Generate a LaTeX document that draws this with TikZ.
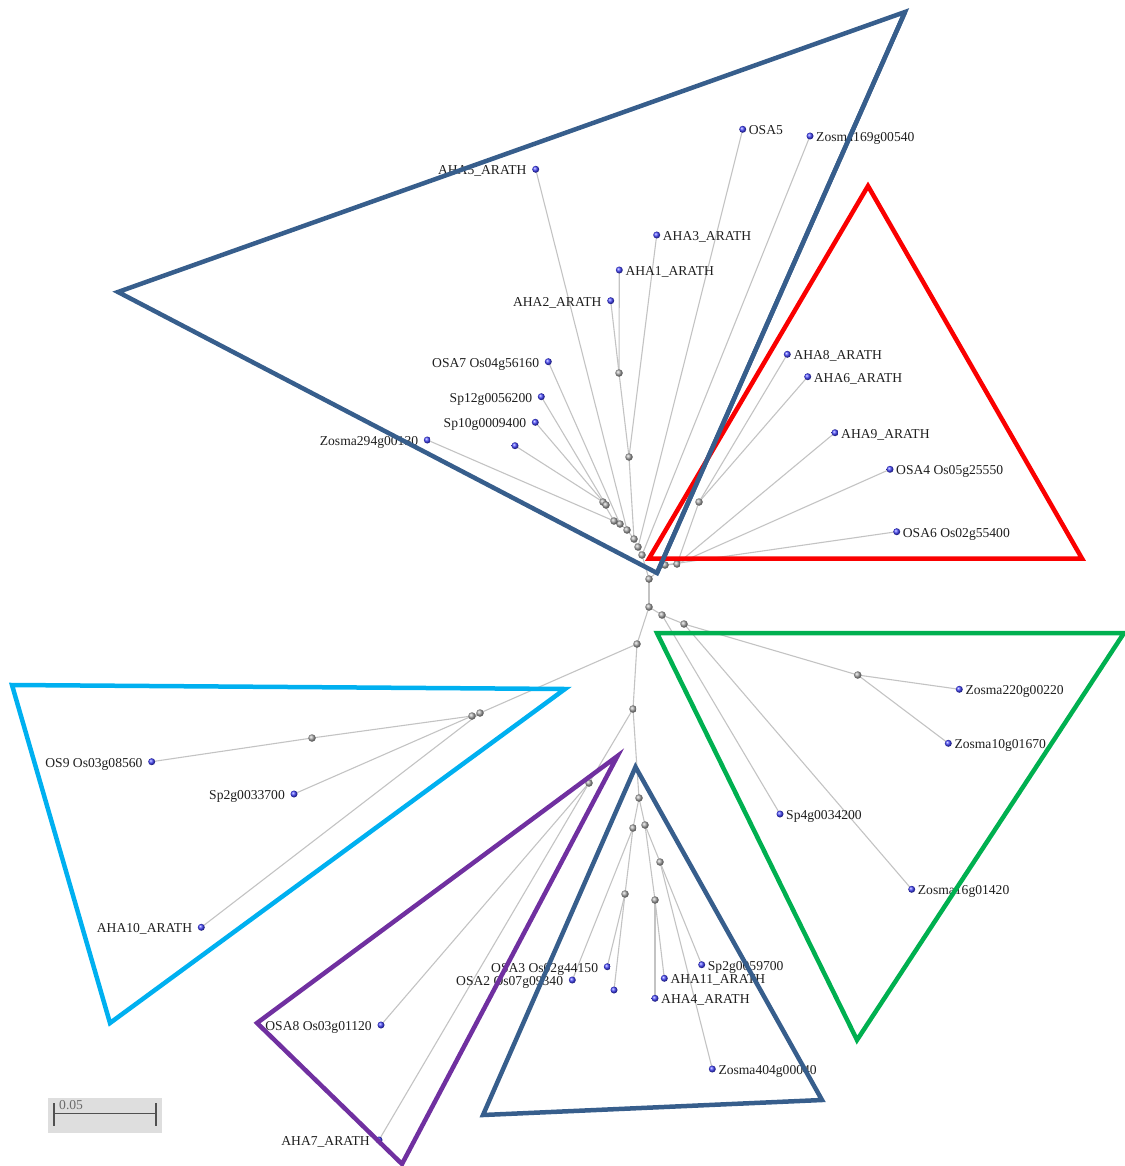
\documentclass[tikz,border=0pt]{standalone}
\usepackage{fontspec}
\setmainfont{Liberation Serif}
\usetikzlibrary{calc}
\pgfdeclarelayer{bg}
\pgfsetlayers{bg,main}
\definecolor{leafblue}{RGB}{70,70,255}
\definecolor{edgegray}{RGB}{195,195,195}
\definecolor{tblue}{RGB}{55,94,140}
\definecolor{tred}{RGB}{250,0,0}
\definecolor{tgreen}{RGB}{0,176,80}
\definecolor{tcyan}{RGB}{0,176,240}
\definecolor{tpurple}{RGB}{112,48,160}
\definecolor{barbg}{RGB}{222,222,222}
\definecolor{bardark}{RGB}{80,80,80}
\newcommand\myleafR[4]{\node[leaf] (#1) at (#2,#3) {};\node[rt] (#1-lab) at ($(#1)+(6,5.5)$) {#4};}
\newcommand\myleafL[4]{\node[leaf] (#1) at (#2,#3) {};\node[lt] (#1-lab) at ($(#1)+(-9,5.5)$) {#4};}
\newcommand\myinner[3]{\node[innode] (#1) at (#2,#3) {};}
\begin{document}
\begin{tikzpicture}[x=1pt,y=-1pt,
  leaf/.style={circle,inner sep=0pt,minimum size=7pt,ball color=leafblue},
  innode/.style={circle,inner sep=0pt,minimum size=7.5pt,ball color=gray!65},
  edge/.style={draw=edgegray,line width=1.1pt},
  txt/.style={inner sep=0pt,font=\fontsize{13.6}{16}\selectfont,text=black!88},
  rt/.style={txt,anchor=base west},
  lt/.style={txt,anchor=base east},
  clade/.style={line width=4.5pt,line join=miter}
]
\useasboundingbox (0,0) rectangle (1124,1166);

% ---------- internal nodes ----------
\myinner{c1}{649}{579}
\myinner{t1}{642}{555}
\myinner{t2}{638}{547}
\myinner{t3}{634}{539}
\myinner{t4}{627}{530}
\myinner{t5}{620}{524}
\myinner{t6}{614}{521}
\myinner{t7}{603}{502}
\myinner{t7b}{606}{505}
\myinner{a1}{629}{457}
\myinner{a2}{619}{373}
\myinner{r1}{665}{565}
\myinner{r2}{677}{564}
\myinner{r3}{699}{502}
\myinner{c2}{649}{607}
\myinner{g1}{662}{615}
\myinner{g2}{684}{624}
\myinner{g3}{857.7}{675}
\myinner{c3}{637}{644}
\myinner{cy1}{480}{713}
\myinner{cy2}{472}{716}
\myinner{cy3}{312}{738}
\myinner{c4}{633}{709}
\myinner{p1}{589}{783}
\myinner{b0}{639}{798}
\myinner{b1}{633}{828}
\myinner{b2}{645}{825}
\myinner{b3}{625}{894}
\myinner{b4}{655}{900}
\myinner{b5}{660}{862}

% ---------- leaves ----------
\myleafL{aha5}{535.7}{169.3}{AHA5\_ARATH}
\myleafR{osa5}{742.7}{129.3}{OSA5}
\myleafR{zos169}{810}{136}{Zosma169g00540}
\myleafR{aha3}{656.7}{235}{AHA3\_ARATH}
\myleafR{aha1}{619.3}{270}{AHA1\_ARATH}
\myleafL{aha2}{610.7}{300.7}{AHA2\_ARATH}
\myleafL{osa7}{548.3}{361.7}{OSA7 Os04g56160}
\myleafL{sp12}{541.3}{396.7}{Sp12g0056200}
\myleafL{sp10}{535.3}{422.3}{Sp10g0009400}
\node[leaf] (un1) at (515,445.7) {};
\myleafL{zos294}{427.3}{440}{Zosma294g00130}

\myleafR{aha8}{787.3}{354.3}{AHA8\_ARATH}
\myleafR{aha6}{807.7}{376.7}{AHA6\_ARATH}
\myleafR{aha9}{835}{432.7}{AHA9\_ARATH}
\myleafR{osa4}{890}{469.3}{OSA4 Os05g25550}
\myleafR{osa6}{896.7}{531.7}{OSA6 Os02g55400}

\myleafR{zos220}{959.3}{689.3}{Zosma220g00220}
\myleafR{zos10}{948.3}{743.3}{Zosma10g01670}
\myleafR{sp4}{780}{814}{Sp4g0034200}
\myleafR{zos16}{911.7}{889.3}{Zosma16g01420}

\myleafL{os9}{151.7}{761.7}{OS9 Os03g08560}
\myleafL{sp2a}{294}{794}{Sp2g0033700}
\myleafL{aha10}{201.3}{927.3}{AHA10\_ARATH}

\myleafL{osa8}{381}{1025}{OSA8 Os03g01120}
\myleafL{aha7}{379}{1140}{AHA7\_ARATH}

\myleafL{osa3}{607.3}{966.7}{OSA3 Os02g44150}
\myleafL{osa2}{572.3}{980}{OSA2 Os07g09340}
\node[leaf] (un2) at (614,990) {};
\myleafR{sp2b}{701.7}{964.7}{Sp2g0059700}
\myleafR{aha11}{664.3}{978.3}{AHA11\_ARATH}
\myleafR{aha4}{655}{998.3}{AHA4\_ARATH}
\myleafR{zos404}{712.3}{1069}{Zosma404g00040}

% ---------- edges ----------
\begin{pgfonlayer}{bg}
\foreach \a/\b in {c1/c2,c1/t1,c1/r1,
  t1/zos169,t1/t2,t2/osa5,t2/t3,t3/a1,t3/t4,a1/aha3,a1/a2,a2/aha1,a2/aha2,
  t4/aha5,t4/t5,t5/osa7,t5/t6,t6/zos294,t6/t7,t7/un1,t7/t7b,t7b/sp12,t7b/sp10,
  r1/osa6,r1/r2,r2/osa4,r2/aha9,r2/r3,r3/aha8,r3/aha6,
  c2/g1,c2/c3,g1/sp4,g1/g2,g2/zos16,g2/g3,g3/zos220,g3/zos10,
  c3/cy1,c3/c4,cy1/aha10,cy1/cy2,cy2/sp2a,cy2/cy3,cy3/os9,
  c4/p1,c4/b0,p1/osa8,p1/aha7,
  b0/b1,b0/b2,b1/osa2,b1/b3,b3/osa3,b3/un2,b2/b5,b2/b4,b5/sp2b,b5/zos404,b4/aha11,b4/aha4}
  {\draw[edge] (\a.center) -- (\b.center);}
\end{pgfonlayer}

% ---------- clade outlines ----------
\coordinate (TB1) at (905,12);
\coordinate (TB2) at (118,292);
\coordinate (TB3) at (657,573);
\draw[clade,tblue] (TB1) -- (TB2) -- (TB3) -- cycle;
\coordinate (RD1) at (868,186);
\coordinate (RD2) at (649,558.5);
\coordinate (RD3) at (1082,558.5);
\draw[clade,tred] (RD1) -- (RD2) -- (RD3) -- cycle;
\draw[clade,tblue] (TB3) -- (TB1);
\coordinate (GR1) at (657,633);
\coordinate (GR2) at (1124,633);
\coordinate (GR3) at (857,1040);
\draw[clade,tgreen] (GR1) -- (GR2) -- (GR3) -- cycle;
\coordinate (CY1) at (12,685);
\coordinate (CY2) at (565,689);
\coordinate (CY3) at (110,1023);
\draw[clade,tcyan] (CY1) -- (CY2) -- (CY3) -- cycle;
\coordinate (PU1) at (617.5,756);
\coordinate (PU2) at (257,1023);
\coordinate (PU3) at (402,1164);
\draw[clade,tpurple] (PU1) -- (PU2) -- (PU3) -- cycle;
\coordinate (BB1) at (635.5,767);
\coordinate (BB2) at (483,1115);
\coordinate (BB3) at (822,1100);
\draw[clade,tblue] (BB1) -- (BB2) -- (BB3) -- cycle;

% ---------- scale bar ----------
\node[fill=barbg,inner sep=0pt,minimum width=114pt,minimum height=35pt,anchor=north west] (sbox) at (47.5,1097.3) {};
\coordinate (sL) at (54,1113.5);
\coordinate (sR) at (156,1113.5);
\draw[bardark,line width=1.6pt] (sL) -- (sR);
\draw[bardark,line width=1.6pt] ($(sL)+(0,-10.5)$) -- ($(sL)+(0,12)$);
\draw[bardark,line width=1.6pt] ($(sR)+(0,-10.5)$) -- ($(sR)+(0,12)$);
\node[txt,anchor=base west,text=gray!85!black] (slab) at (59,1109.5) {0.05};
\end{tikzpicture}
\end{document}
